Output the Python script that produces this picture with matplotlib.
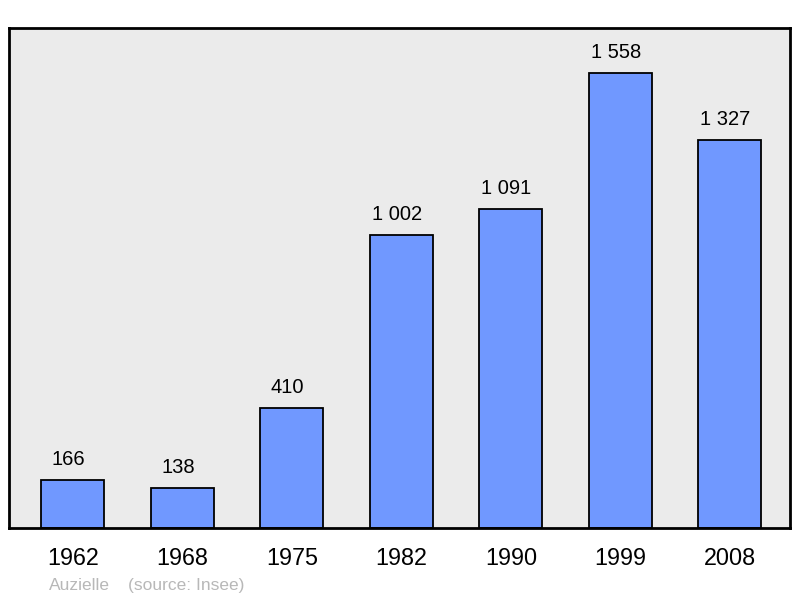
import matplotlib.pyplot as plt
from matplotlib.transforms import offset_copy

years = ["1962", "1968", "1975", "1982", "1990", "1999", "2008"]
population = [166, 138, 410, 1002, 1091, 1558, 1327]
labels = ["166", "138", "410", "1 002", "1 091", "1 558", "1 327"]

plt.rcParams['font.family'] = ['Liberation Sans', 'DejaVu Sans']

fig = plt.figure(figsize=(8, 5.98), dpi=100)
ax = fig.add_axes([9 / 800, 1 - 528 / 598, 781 / 800, 500 / 598])
ax.set_facecolor("#ebebeb")

x = range(len(years))
ax.bar(x, population, width=0.575, color="#7098ff", edgecolor="black",
       linewidth=1.3, zorder=2)
shift = offset_copy(ax.transData, fig=fig, x=-4.5, y=11, units="dots")
for i, (v, lab) in enumerate(zip(population, labels)):
    ax.text(i, v, lab, ha="center", va="bottom", fontsize=14.5, transform=shift)

ax.set_xlim(-0.584, 6.55)
ax.set_ylim(0, 1712)
ax.set_xticks(list(x))
ax.set_xticklabels(years, fontsize=16.8)
ax.tick_params(axis="x", length=0, pad=14)
ax.set_yticks([])
for s in ax.spines.values():
    s.set_linewidth(2)

fig.text(49 / 800, 1 - 590 / 598, "Auzielle", color="#b8b8b8", fontsize=12.5, va="baseline")
fig.text(128 / 800, 1 - 590 / 598, "(source: Insee)", color="#b8b8b8", fontsize=12.5, va="baseline")

fig.savefig("out.png", dpi=100, facecolor="white")
